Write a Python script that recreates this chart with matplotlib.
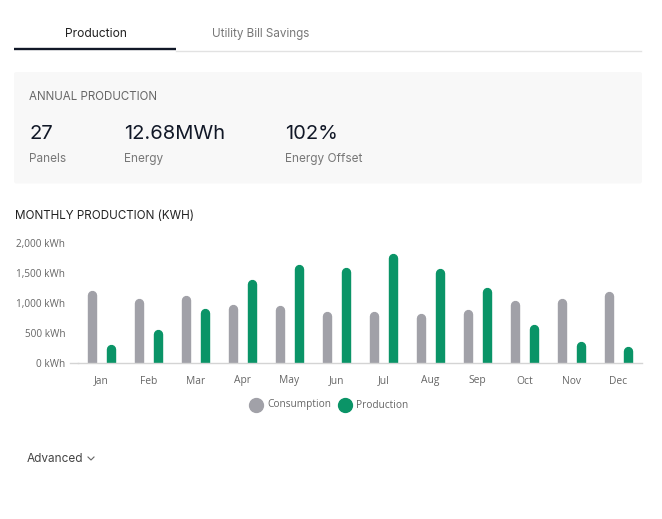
import matplotlib
matplotlib.use("Agg")
import matplotlib.pyplot as plt
from matplotlib.lines import Line2D
from matplotlib.patches import FancyBboxPatch
import numpy as np

# ---------------- data ----------------
months = ["Jan", "Feb", "Mar", "Apr", "May", "Jun", "Jul", "Aug", "Sep", "Oct", "Nov", "Dec"]
consumption = [1222, 1083, 1139, 989, 961, 861, 872, 833, 900, 1050, 1089, 1194]
production = [317, 567, 910, 1400, 1650, 1594, 1833, 1583, 1261, 655, 361, 278]
y_ticks = [0, 500, 1000, 1500, 2000]
y_tick_labels = ["0 kWh", "500 kWh", "1,000 kWh", "1,500 kWh", "2,000 kWh"]
series_names = ["Consumption", "Production"]
stats_values = ["27", "12.68MWh", "102%"]
stats_labels = ["Panels", "Energy", "Energy Offset"]
tabs = ["Production", "Utility Bill Savings"]

# ---------------- style ----------------
W, H = 662, 519
DPI = 100
GRAY = "#a1a1a8"
GREEN = "#0a9467"
HEAD_FONT = ["Inter", "DejaVu Sans"]
CHART_FONT = ["Open Sans", "DejaVu Sans"]

fig = plt.figure(figsize=(W / DPI, H / DPI), dpi=DPI)
fig.patch.set_facecolor("white")


def fx(x):
    return x / W


def fy(y):
    return 1 - y / H


def ftext(x, y, s, **kw):
    fig.text(fx(x), fy(y), s, **kw)


# ---------------- header tabs ----------------
ftext(96, 37.3, tabs[0], ha="center", va="baseline", fontsize=8.7, color="#222222", family=HEAD_FONT)
ftext(260.5, 37.3, tabs[1], ha="center", va="baseline", fontsize=8.4, color="#777777", family=HEAD_FONT)
fig.add_artist(Line2D([fx(176), fx(641)], [fy(50.5), fy(50.5)], color="#e2e2e2", lw=1.0,
                      transform=fig.transFigure))
fig.add_artist(Line2D([fx(14), fx(176)], [fy(48.5), fy(48.5)], color="#111827", lw=1.7,
                      solid_capstyle="butt", transform=fig.transFigure))

# ---------------- annual production box ----------------
box = FancyBboxPatch((fx(14), fy(183.5)), fx(642) - fx(14), fy(72) - fy(183.5),
                     boxstyle="round,pad=0,rounding_size=0.004", transform=fig.transFigure,
                     facecolor="#f8f8f8", edgecolor="none")
fig.add_artist(box)
ftext(29, 100, "ANNUAL PRODUCTION", ha="left", va="baseline", fontsize=8.3, color="#666666",
      family=HEAD_FONT)
for x, v, l in zip([29, 124, 285], stats_values, stats_labels):
    ftext(x, 139, v, ha="left", va="baseline", fontsize=14.5, color="#111827", family=HEAD_FONT)
    ftext(x, 161.7, l, ha="left", va="baseline", fontsize=8.5, color="#777777", family=HEAD_FONT)

# ---------------- chart title ----------------
ftext(15, 219, "MONTHLY PRODUCTION (KWH)", ha="left", va="baseline", fontsize=8.4,
      color="#222222", family=HEAD_FONT)

# ---------------- chart ----------------
ax_l, ax_r, ax_b, ax_t = 78, 642, 363, 243.5
ax = fig.add_axes([fx(ax_l), fy(ax_b), fx(ax_r) - fx(ax_l), fy(ax_t) - fy(ax_b)])
ax.set_facecolor("none")
x = np.arange(len(months))
ax.set_xlim(-0.5, len(months) - 0.5)
ax.set_ylim(0, 2000)

bar_w = 0.2
offset = 0.2
ax_h_px = ax_b - ax_t
cat_px = (ax_r - ax_l) / len(months)
bar_px = bar_w * cat_px
lw_pt = bar_px * 72 / DPI
r_data = (bar_px / 2) * 2000 / ax_h_px

for xi, c, p in zip(x, consumption, production):
    ax.vlines(xi - offset, 0, c - r_data, colors=GRAY, lw=lw_pt, capstyle="round")
    ax.vlines(xi + offset, 0, p - r_data, colors=GREEN, lw=lw_pt, capstyle="round")

for s in ["top", "right", "left"]:
    ax.spines[s].set_visible(False)
ax.spines["bottom"].set_color("#d4d4d4")
ax.spines["bottom"].set_linewidth(1.0)
fig.add_artist(Line2D([fx(70), fx(ax_l)], [fy(ax_b), fy(ax_b)], color="#d4d4d4", lw=1.0,
                      transform=fig.transFigure))

ax.set_yticks(y_ticks)
ax.set_yticklabels(y_tick_labels)
ax.set_xticks(x)
ax.set_xticklabels(months)
ax.tick_params(axis="y", length=0, pad=9, labelsize=7.2, labelcolor="#666666")
ax.tick_params(axis="x", length=0, pad=9, labelsize=7.4, labelcolor="#666666")
for lab in ax.get_xticklabels() + ax.get_yticklabels():
    lab.set_family(CHART_FONT)

# ---------------- legend ----------------
for cx, tx, name, col in [(256, 267, series_names[0], GRAY), (345, 356, series_names[1], GREEN)]:
    fig.add_artist(Line2D([fx(cx)], [fy(405)], marker="o", ms=10, color=col, ls="",
                          transform=fig.transFigure))
    ftext(tx, 405, name, ha="left", va="center", fontsize=7.3, color="#666666", family=CHART_FONT)

# ---------------- advanced ----------------
ftext(27, 461.7, "Advanced", ha="left", va="baseline", fontsize=8.5, color="#444444", family=HEAD_FONT)
fig.add_artist(Line2D([fx(88), fx(91), fx(94)], [fy(457), fy(460), fy(457)],
                      color="#666666", lw=0.8, transform=fig.transFigure))

fig.savefig("out.png", dpi=DPI, facecolor="white")
